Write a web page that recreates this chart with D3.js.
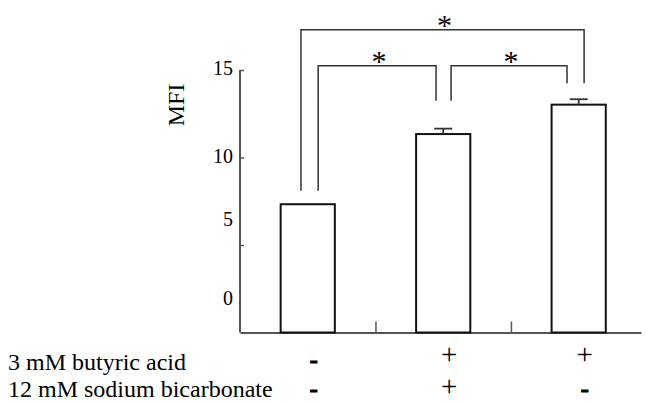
<!DOCTYPE html>
<html>
<head>
<meta charset="utf-8">
<script src="https://cdn.jsdelivr.net/npm/d3@7"></script>
<style>
  body { margin: 0; background: #fff; }
</style>
</head>
<body>
<svg id="chart" width="646" height="403"></svg>
<script>
// Data
const groups = [0, 1, 2];
const mfi = [7.33, 11.34, 13.02];
const mfiErr = [0, 0.31, 0.31];
const yTicks = [5, 10, 15];
// the printed labels sit a little off their ticks in the original
const yLabels = ['15', '10', '5', '0'];
const yLabelAt = [15.1, 10.05, 6.45, 1.95];
const butyric = ['-', '+', '+'];
const bicarb = ['-', '+', '-'];
const rowNames = ['3 mM butyric acid', '12 mM sodium bicarbonate'];
const comparisons = [
  { a: 0, b: 2, top: 17.3, endA: 8.1, endB: 14.25, offA: -0.05, offB: 0.04 },
  { a: 0, b: 1, top: 15.25, endA: 8.1, endB: 13.25, offA: 0.077, offB: -0.053 },
  { a: 1, b: 2, top: 15.25, endA: 13.25, endB: 14.25, offA: 0.058, offB: -0.086 },
];

const serif = '"Liberation Serif", "Times New Roman", Times, "DejaVu Serif", serif';

const svg = d3.select('#chart')
  .attr('font-family', serif);

// Scalers
const x = d3.scaleLinear().domain([-0.5, 2.46]).range([240, 641]);
const y = d3.scaleLinear().domain([0, 15]).range([332.5, 70]);
const barW = 0.4;

// Axes
svg.append('g')
  .attr('transform', 'translate(240,0)')
  .call(d3.axisLeft(y).tickValues(yTicks).tickSizeInner(-4).tickSizeOuter(0).tickFormat(''))
  .call((g) => {
    g.select('.domain').attr('stroke', '#555').attr('stroke-width', 2)
      .attr('d', `M0,${y(15)}V${y(0)}`);
    g.selectAll('.tick line').attr('stroke', '#555').attr('stroke-width', 1.5);
  });

svg.selectAll('.ylab')
  .data(yLabels)
  .enter()
  .append('text')
  .attr('class', 'ylab')
  .attr('x', 233)
  .attr('y', (d, i) => y(yLabelAt[i]))
  .attr('dy', '0.34em')
  .attr('text-anchor', 'end')
  .style('font-family', serif)
  .style('font-size', '20px')
  .text((d) => d);

svg.append('text')
  .attr('transform', `translate(184,${105}) rotate(-90)`)
  .attr('text-anchor', 'middle')
  .style('font-family', serif)
  .style('font-size', '24px')
  .text('MFI');

svg.append('g')
  .attr('transform', `translate(0,${y(0)})`)
  .call(d3.axisBottom(x).tickValues([0.5, 1.5]).tickSizeInner(-11).tickSizeOuter(0).tickFormat(''))
  .call((g) => {
    g.select('.domain').attr('stroke', '#555').attr('stroke-width', 2);
    g.selectAll('.tick line').attr('stroke', '#555').attr('stroke-width', 1.5);
  });

// Bars
svg.selectAll('.bar')
  .data(groups)
  .enter()
  .append('rect')
  .attr('class', 'bar')
  .attr('x', (i) => x(i - barW / 2))
  .attr('y', (i) => y(mfi[i]))
  .attr('width', x(barW) - x(0))
  .attr('height', (i) => y(0) - y(mfi[i]))
  .attr('fill', 'white')
  .attr('stroke', '#111')
  .attr('stroke-width', 2);

// Error bars
const errs = svg.selectAll('.err')
  .data(groups.filter((i) => mfiErr[i] > 0))
  .enter()
  .append('g')
  .attr('class', 'err')
  .attr('stroke', '#333')
  .attr('stroke-width', 1.8);
errs.append('line')
  .attr('x1', (i) => x(i)).attr('x2', (i) => x(i))
  .attr('y1', (i) => y(mfi[i])).attr('y2', (i) => y(mfi[i] + mfiErr[i]));
errs.append('line')
  .attr('x1', (i) => x(i) - 9).attr('x2', (i) => x(i) + 9)
  .attr('y1', (i) => y(mfi[i] + mfiErr[i])).attr('y2', (i) => y(mfi[i] + mfiErr[i]));

// Significance brackets
const br = svg.selectAll('.bracket')
  .data(comparisons)
  .enter()
  .append('g')
  .attr('class', 'bracket');
br.append('path')
  .attr('d', (c) => `M${x(c.a + c.offA)},${y(c.endA)}V${y(c.top)}H${x(c.b + c.offB)}V${y(c.endB)}`)
  .attr('fill', 'none')
  .attr('stroke', '#333')
  .attr('stroke-width', 1.5);
br.append('text')
  .attr('x', (c) => (x(c.a + c.offA) + x(c.b + c.offB)) / 2 + 2)
  .attr('y', (c) => y(c.top) + 5)
  .attr('text-anchor', 'middle')
  .style('font-family', serif)
  .style('font-size', '30px')
  .text('*');

// Treatment table
svg.selectAll('.rowname')
  .data(rowNames)
  .enter()
  .append('text')
  .attr('class', 'rowname')
  .attr('x', 8)
  .attr('y', (d, i) => 370 + i * 27)
  .style('font-family', serif)
  .style('font-size', '24px')
  .text((d) => d);

[butyric, bicarb].forEach((row, r) => {
  svg.selectAll(`.sign${r}`)
    .data(row)
    .enter()
    .append('text')
    .attr('class', `sign${r}`)
    .attr('x', (d, i) => x(i) + 6)
    .attr('y', (d) => (d === '+' ? 363.5 + r * 32.5 : 368 + r * 29))
    .attr('text-anchor', 'middle')
    .style('font-family', serif)
    .style('font-size', (d) => (d === '+' ? '29px' : '24px'))
    .style('font-weight', (d) => (d === '+' ? 'normal' : 'bold'))
    .attr('stroke', (d) => (d === '+' ? 'none' : '#000'))
    .attr('stroke-width', 1.2)
    .text((d) => d);
});
</script>
</body>
</html>
